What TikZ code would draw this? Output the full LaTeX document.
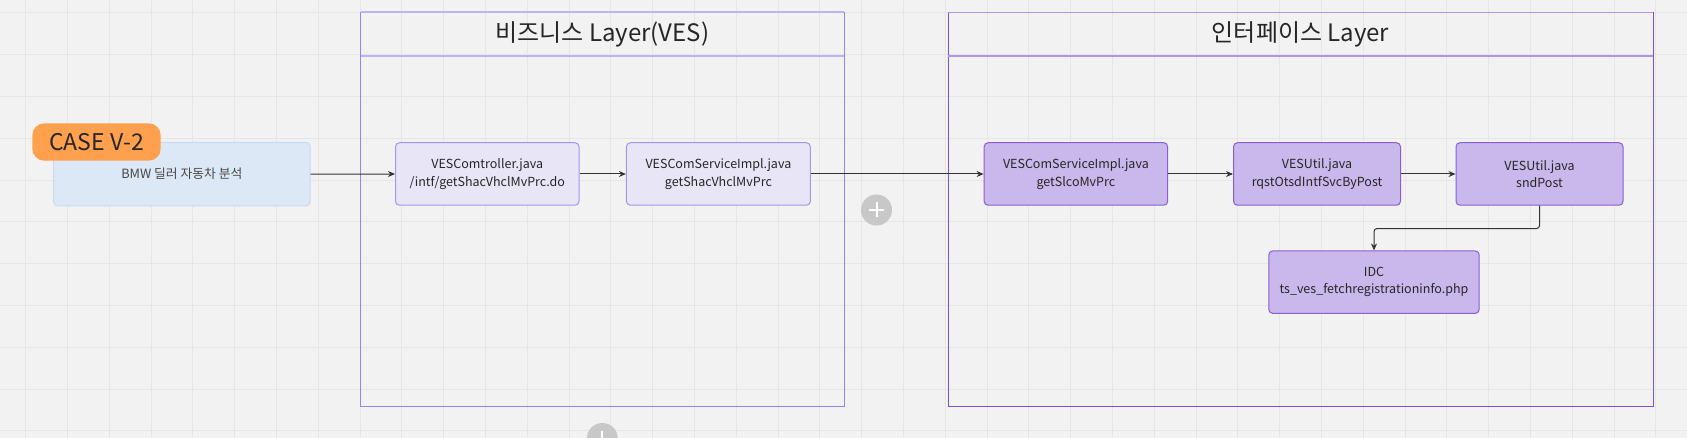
\documentclass[tikz,border=0pt]{standalone}
\usepackage{fontspec}
\setmainfont{Noto Sans CJK KR}
\usetikzlibrary{arrows.meta}
\definecolor{bg}{HTML}{F2F2F2}
\definecolor{gridc}{HTML}{E6E6E6}
\definecolor{bizborder}{HTML}{9585F0}
\definecolor{bizhead}{HTML}{BCB3F6}
\definecolor{ifborder}{HTML}{8050D8}
\definecolor{ifhead}{HTML}{B096E6}
\definecolor{bizfill}{HTML}{E8E5F7}
\definecolor{bizdraw}{HTML}{A594F0}
\definecolor{iffill}{HTML}{C9B8EC}
\definecolor{ifdraw}{HTML}{8A5CD6}
\definecolor{bmwfill}{HTML}{DDE8F6}
\definecolor{bmwdraw}{HTML}{C6DAF5}
\definecolor{casefill}{HTML}{FFA04F}
\definecolor{txt}{HTML}{262626}
\definecolor{conncol}{HTML}{333333}
\definecolor{plusfill}{HTML}{C8C8C8}
\tikzset{
  layerbox/.style={draw, line width=1pt, inner sep=0pt},
  headbox/.style={inner sep=0pt, minimum height=43pt, text=txt,
    font=\fontsize{24}{27}\selectfont},
  headline/.style={line width=1.9pt},
  nodebase/.style={rounded corners=4pt, line width=1pt, inner sep=0pt, minimum height=62.5pt,
    text=txt, align=center, font=\fontsize{12.5}{17.3}\selectfont},
  bizstep/.style={nodebase, fill=bizfill, draw=bizdraw},
  ifstep/.style={nodebase, fill=iffill, draw=ifdraw},
  conn/.style={draw=conncol, line width=1pt, -{Stealth[length=7pt,width=6pt]}},
  plusc/.style={circle, fill=plusfill, minimum size=31pt, inner sep=0pt},
}
\begin{document}
\begin{tikzpicture}[x=1pt,y=-1pt]
\fill[bg] (0,0) rectangle (1687,438);
\useasboundingbox (0,0) rectangle (1687,438);
\clip (0,0) rectangle (1687,438);
\foreach \i in {0,...,40} \draw[gridc, line width=0.9pt] ({25.7+41.8*\i},0) -- ++(0,438);
\foreach \j in {0,...,10} \draw[gridc, line width=0.9pt] (0,{12.9+41.8*\j}) -- ++(1687,0);

% layers
\node[layerbox, draw=bizborder, minimum width=483.3pt, minimum height=393.3pt] (biz) at (602.35,209.35) {};
\node[headbox, minimum width=483.3pt, anchor=north] (bizh) at (biz.north) {비즈니스 Layer(VES)};
\draw[headline, bizhead] (bizh.south west) -- (bizh.south east);
\draw[headline, bizhead] (bizh.north west) -- (bizh.north east);
\node[layerbox, draw=ifborder, minimum width=705pt, minimum height=393pt] (intf) at (1300.5,209.5) {};
\node[headbox, minimum width=705pt, anchor=north] (intfh) at (intf.north) {인터페이스 Layer};
\draw[headline, ifhead] (intfh.south west) -- (intfh.south east);
\draw[headline, ifhead] (intfh.north west) -- (intfh.north east);

% left
\node[rounded corners=4pt, fill=bmwfill, draw=bmwdraw, line width=1pt, minimum width=256.3pt, minimum height=63.7pt,
  text=txt!85, font=\fontsize{12.8}{15}\selectfont] (bmw) at (181.85,174.15) {BMW 딜러 자동차 분석};
\node[rounded corners=12pt, fill=casefill, minimum width=128.4pt, minimum height=37.4pt,
  text=txt, font=\fontsize{23}{26}\selectfont] (case) at (96.5,142) {CASE V-2};

% business nodes
\node[bizstep, minimum width=183.5pt] (ctrl) at (487.25,174) {VESComtroller.java\\/intf/getShacVhclMvPrc.do};
\node[bizstep, minimum width=184pt] (svc1) at (718.4,174) {VESComServiceImpl.java\\getShacVhclMvPrc};

% interface nodes
\node[ifstep, minimum width=183.6pt] (svc2) at (1075.9,174) {VESComServiceImpl.java\\getSlcoMvPrc};
\node[ifstep, minimum width=167pt] (util1) at (1317,174) {VESUtil.java\\rqstOtsdIntfSvcByPost};
\node[ifstep, minimum width=167pt] (util2) at (1539.5,174) {VESUtil.java\\sndPost};
\node[ifstep, minimum width=210.4pt] (idc) at (1374,282.2) {IDC\\ts\_ves\_fetchregistrationinfo.php};

% connectors
\draw[conn] (bmw.east) -- (ctrl.west);
\draw[conn] (ctrl.east) -- (svc1.west);
\draw[conn] (svc1.east) -- (svc2.west);
\draw[conn] (svc2.east) -- (util1.west);
\draw[conn] (util1.east) -- (util2.west);
\draw[conn, rounded corners=3pt] (util2.south) -- ++(0,22.8) -| (idc.north);

% plus buttons
\node[plusc] (p1) at (876.5,210) {};
\draw[white, line width=2pt] (p1.center) ++(-7.5,0) -- ++(15,0);
\draw[white, line width=2pt] (p1.center) ++(0,-7.5) -- ++(0,15);
\node[plusc] (p2) at (602.3,438.5) {};
\draw[white, line width=2pt] (p2.center) ++(0,-7.5) -- ++(0,15);
\end{tikzpicture}
\end{document}
